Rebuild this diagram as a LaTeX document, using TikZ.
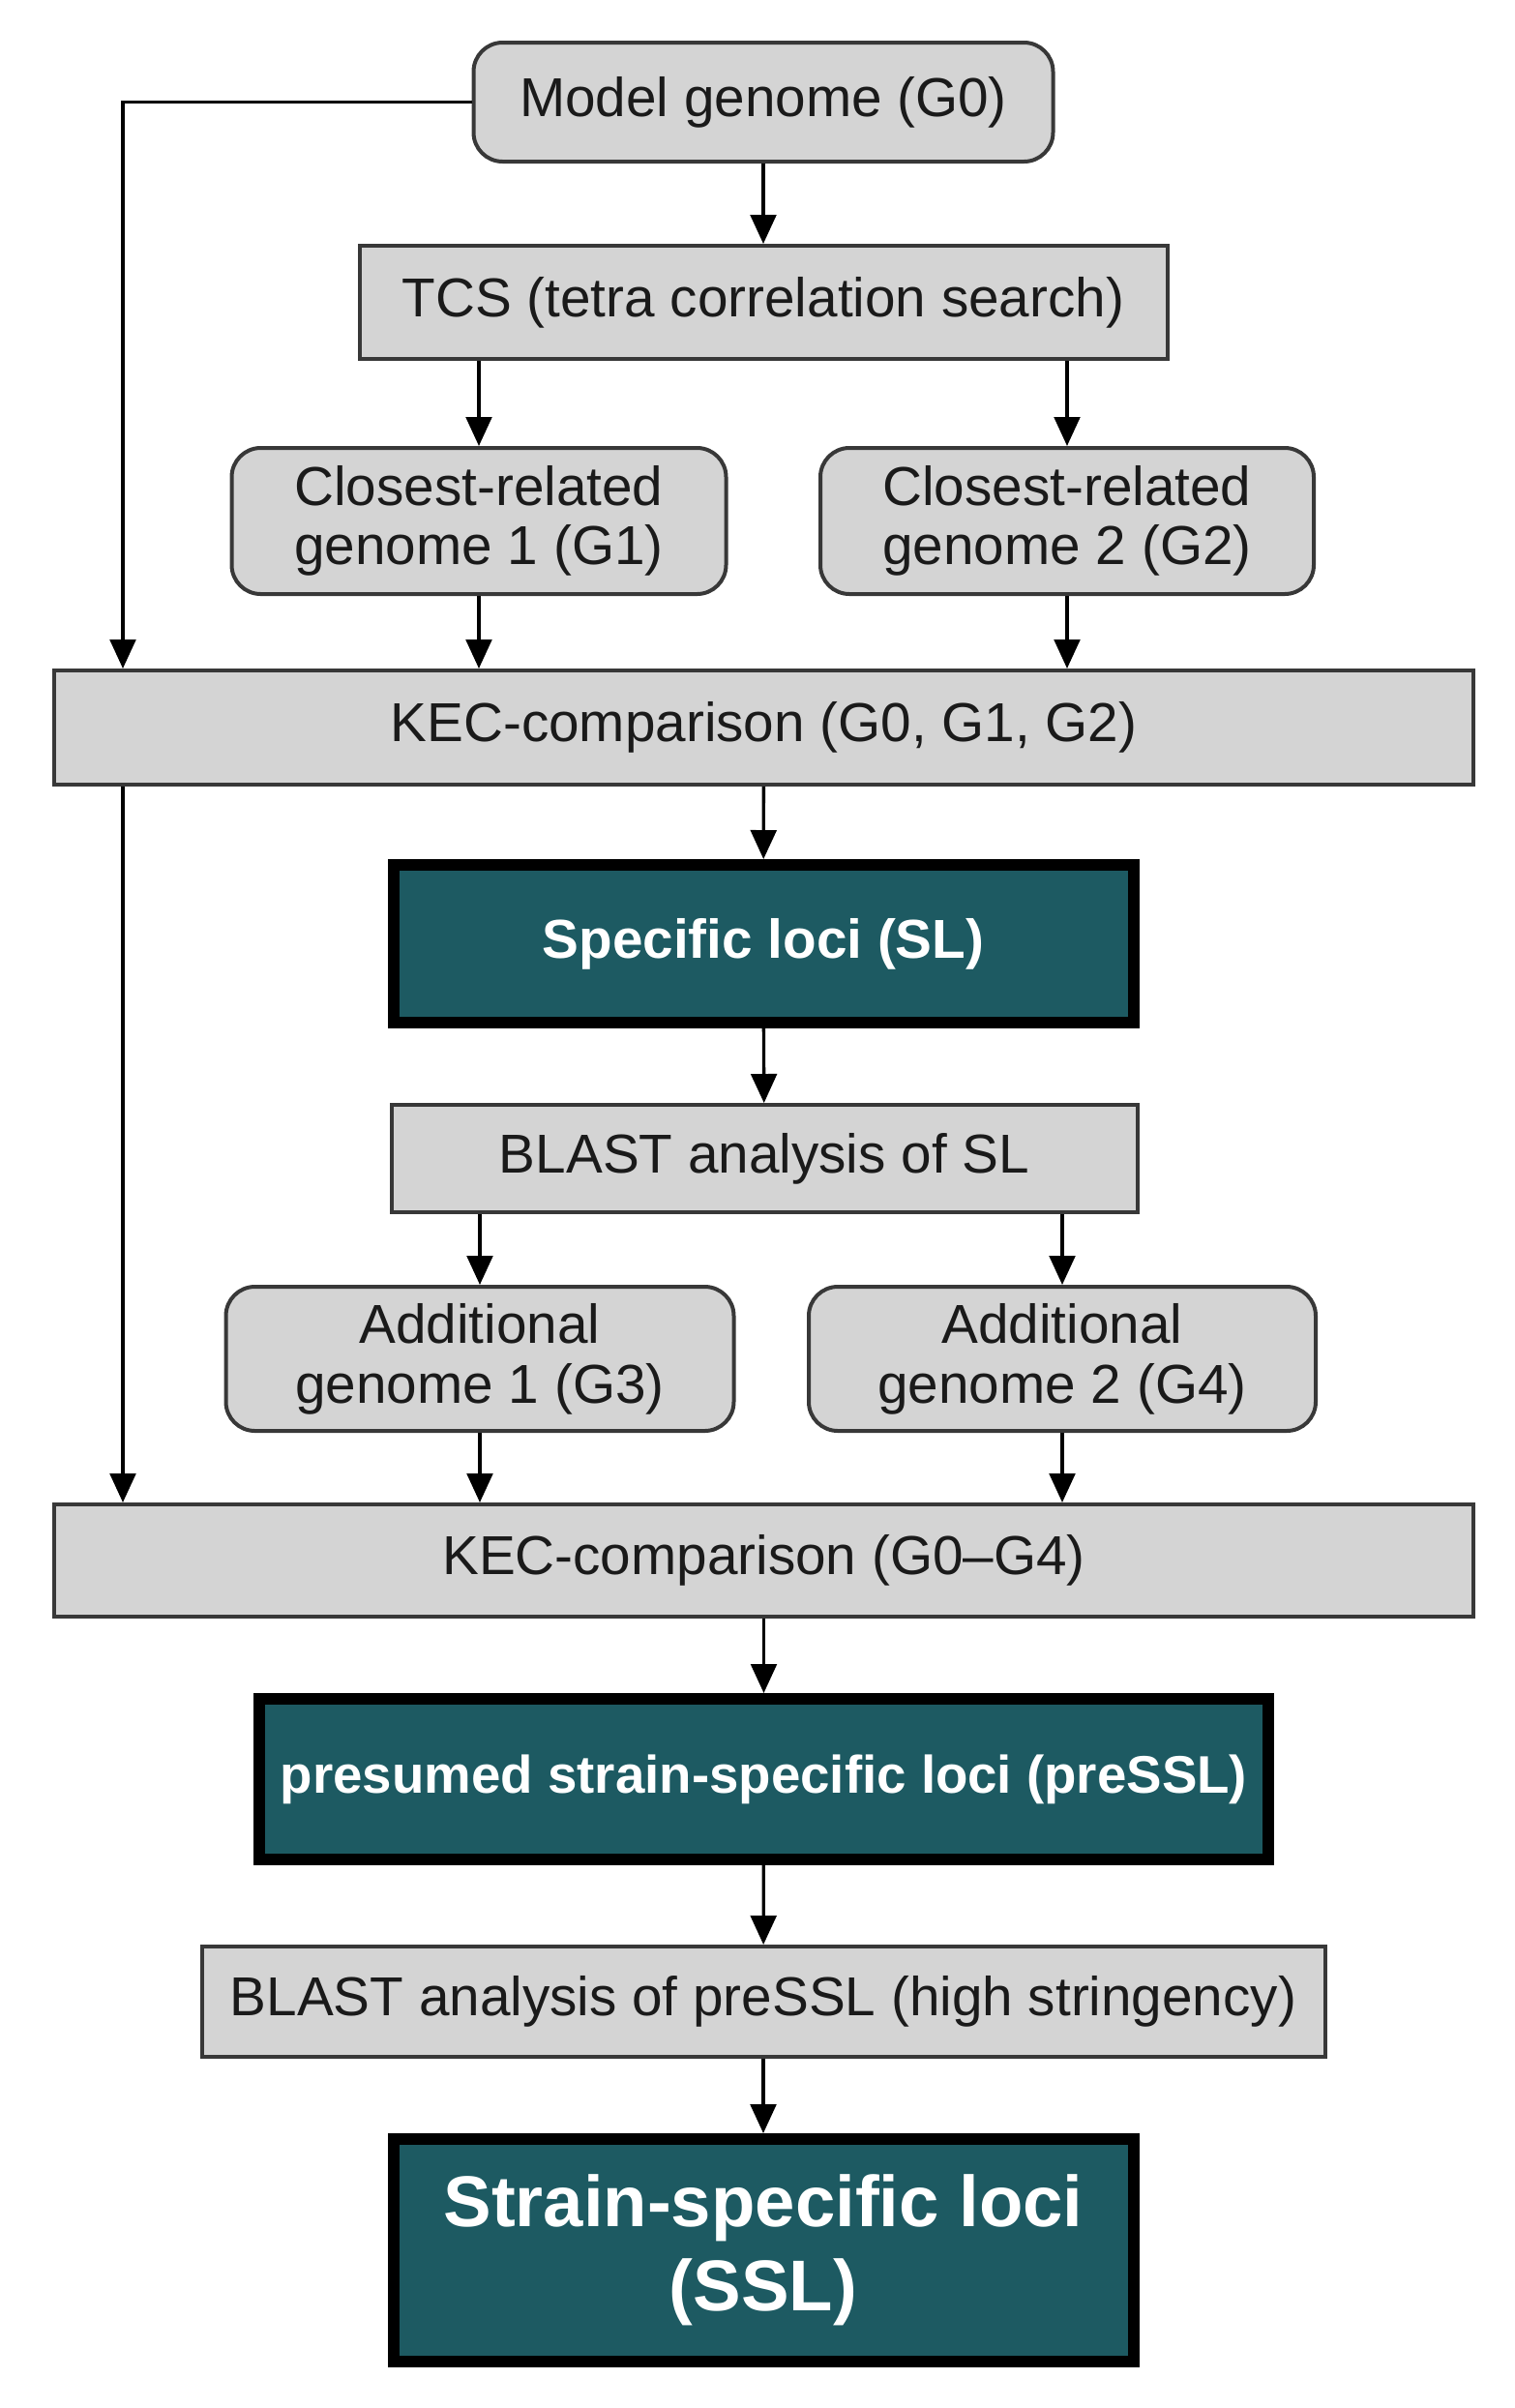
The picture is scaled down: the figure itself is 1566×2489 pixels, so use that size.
\documentclass[tikz,border=0pt]{standalone}
\usepackage{fontspec}
\setmainfont{Liberation Sans}
\usetikzlibrary{arrows.meta}
\definecolor{boxgray}{HTML}{D4D4D4}
\definecolor{edgegray}{HTML}{383838}
\definecolor{teal}{HTML}{1D5A62}
\definecolor{txtgray}{HTML}{1A1A1A}
\tikzset{
  graybox/.style={draw=edgegray, line width=1.2pt, fill=boxgray, text=txtgray,
    inner sep=0pt, align=center, font=\fontsize{17}{18.5}\selectfont},
  roundbox/.style={graybox, rounded corners=9pt},
  tealbox/.style={draw=black, line width=3.6pt, fill=teal, text=white,
    inner sep=0pt, align=center, font=\bfseries\fontsize{17}{20}\selectfont},
  conn/.style={draw=black, line width=1pt, -{Triangle[length=9pt,width=8pt]}}
}
\begin{document}
\begin{tikzpicture}[x=0.3pt,y=-0.3pt]
\useasboundingbox (0,0) rectangle (1566,2489);
\node[roundbox, minimum width=179.7pt, minimum height=36.9pt] (g0) at (789,105.5) {Model genome (G0)};
\node[graybox, minimum width=250.5pt, minimum height=35.1pt] (tcs) at (789,312.5) {TCS (tetra correlation search)};
\node[roundbox, minimum width=153.3pt, minimum height=45.3pt] (g1) at (495,538.5) {Closest-related\\genome 1 (G1)};
\node[roundbox, minimum width=153pt, minimum height=45.3pt] (g2) at (1103,538.5) {Closest-related\\genome 2 (G2)};
\node[graybox, minimum width=440.1pt, minimum height=35.4pt] (kec1) at (789.5,752) {KEC-comparison (G0, G1, G2)};
\node[tealbox, minimum width=229.5pt, minimum height=48.9pt] (sl) at (789,975.5) {Specific loci (SL)};
\node[graybox, minimum width=231.3pt, minimum height=33.3pt] (bsl) at (790,1197.5) {BLAST analysis of SL};
\node[roundbox, minimum width=157.5pt, minimum height=44.7pt] (g3) at (496,1404.5) {Additional\\genome 1 (G3)};
\node[roundbox, minimum width=157.2pt, minimum height=44.7pt] (g4) at (1098,1404.5) {Additional\\genome 2 (G4)};
\node[graybox, minimum width=440.1pt, minimum height=34.8pt] (kec2) at (789.5,1613) {KEC-comparison (G0--G4)};
\node[tealbox, font=\bfseries\fontsize{16.4}{20}\selectfont, minimum width=312.9pt, minimum height=49.8pt] (pre) at (789.5,1839) {presumed strain-specific loci (preSSL)};
\node[graybox, minimum width=348.3pt, minimum height=34.2pt] (bpre) at (789,2069) {BLAST analysis of preSSL (high stringency)};
\node[tealbox, font=\bfseries\fontsize{22.3}{26}\selectfont, minimum width=229.5pt, minimum height=69pt] (ssl) at (789,2326) {Strain-specific loci\\(SSL)};

\coordinate (lt) at (127,105.5);
\draw[conn] (g0.west) -- (lt) -- (lt |- kec1.north);
\draw[conn] (lt |- kec1.south) -- (lt |- kec2.north);
\draw[conn] (g0) -- (tcs);
\draw[conn] (tcs.south -| g1) -- (g1);
\draw[conn] (tcs.south -| g2) -- (g2);
\draw[conn] (g1) -- (g1 |- kec1.north);
\draw[conn] (g2) -- (g2 |- kec1.north);
\draw[conn] (kec1) -- (sl);
\draw[conn] (sl) -- (bsl);
\draw[conn] (bsl.south -| g3) -- (g3);
\draw[conn] (bsl.south -| g4) -- (g4);
\draw[conn] (g3) -- (g3 |- kec2.north);
\draw[conn] (g4) -- (g4 |- kec2.north);
\draw[conn] (kec2) -- (pre);
\draw[conn] (pre) -- (bpre);
\draw[conn] (bpre) -- (ssl);
\end{tikzpicture}
\end{document}
